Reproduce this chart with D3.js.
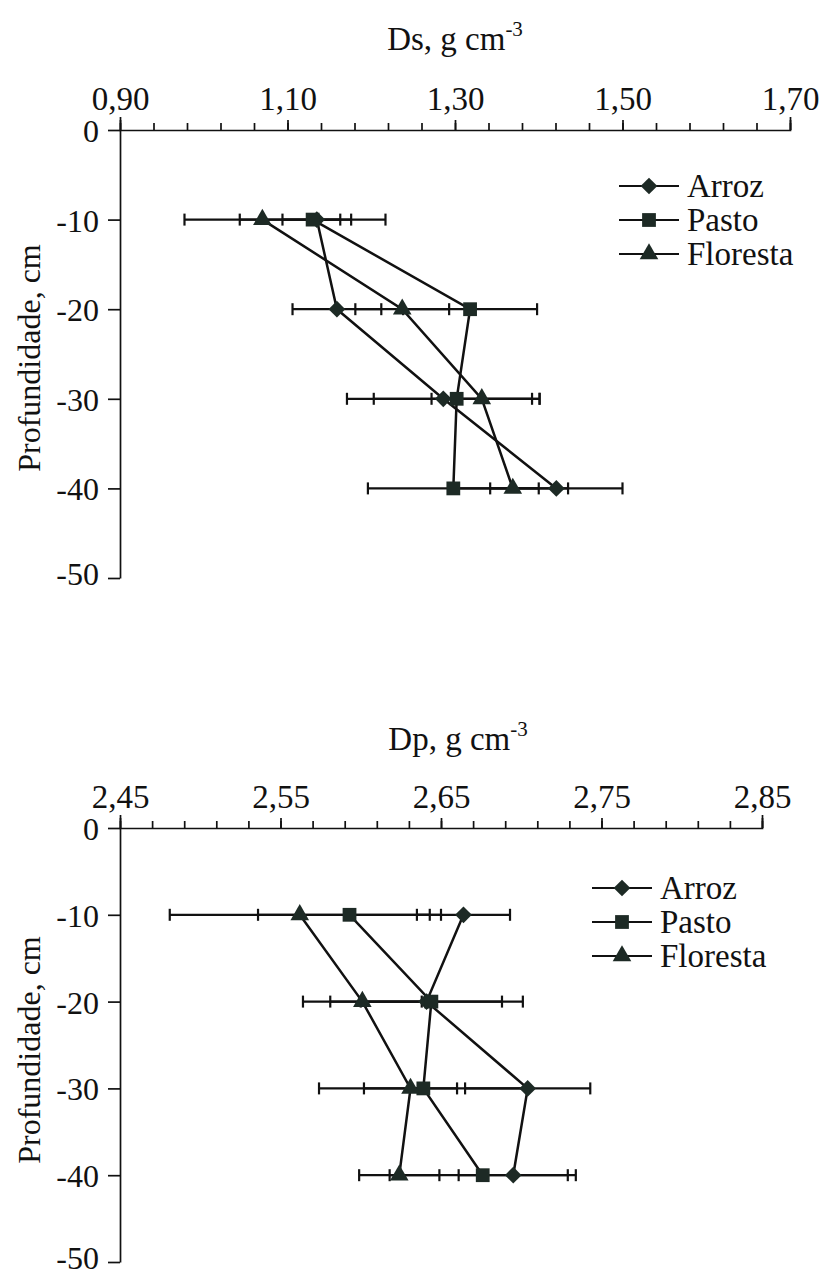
<!DOCTYPE html>
<html>
<head>
<meta charset="utf-8">
<script src="https://cdn.jsdelivr.net/npm/d3@7"></script>
<style>
  body { margin: 0; background: #fff; }
  svg text { font-family: "Liberation Serif", "Times New Roman", serif; fill: #111; }
</style>
</head>
<body>
<div id="chart"></div>
<script>
// depths (cm) shared by both panels
var depths = [-10, -20, -30, -40];
var depthTicks = [0, -10, -20, -30, -40, -50];
var seriesNames = ["Arroz", "Pasto", "Floresta"];

// bulk density Ds (g cm-3) and error
var dsArroz = [1.135, 1.159, 1.286, 1.421];
var dsArrozErr = [0.041, 0.053, 0.115, 0.079];
var dsPasto = [1.130, 1.318, 1.302, 1.298];
var dsPastoErr = [0.087, 0.080, 0.099, 0.102];
var dsFloresta = [1.070, 1.237, 1.332, 1.369];
var dsFlorestaErr = [0.093, 0.056, 0.060, 0.066];
var dsTicks = [0.90, 1.10, 1.30, 1.50, 1.70];

// particle density Dp (g cm-3) and error
var dpArroz = [2.664, 2.641, 2.704, 2.695];
var dpArrozErr = [0.029, 0.060, 0.039, 0.034];
var dpPasto = [2.593, 2.644, 2.639, 2.676];
var dpPastoErr = [0.057, 0.044, 0.065, 0.058];
var dpFloresta = [2.562, 2.601, 2.631, 2.624];
var dpFlorestaErr = [0.081, 0.037, 0.029, 0.025];
var dpTicks = [2.45, 2.55, 2.65, 2.75, 2.85];

var width = 821, height = 1276;
var markFill = "#1d2a25";

var svg = d3.select("#chart").append("svg")
  .attr("width", width)
  .attr("height", height);

// diamond is a square turned 45 degrees, like the original
var symbols = {
  "Arroz": { gen: d3.symbol().type(d3.symbolSquare).size(140), rot: 45 },
  "Pasto": { gen: d3.symbol().type(d3.symbolSquare).size(190), rot: 0 },
  "Floresta": { gen: d3.symbol().type(d3.symbolTriangle).size(150), rot: 0 }
};

function addMark(sel, name, cx, cy) {
  sel.append("path")
    .attr("d", symbols[name].gen())
    .attr("transform", "translate(" + cx + "," + cy + ") rotate(" + symbols[name].rot + ")")
    .attr("fill", markFill);
}

function drawPanel(p) {
  var g = svg.append("g");
  var x = d3.scaleLinear().domain(p.xDomain).range([p.left, p.right]);
  var y = d3.scaleLinear().domain([0, -50]).range([p.top, p.bottom]);
  var fmt = function (d) { return d3.format(p.fmt)(d).replace(".", ","); };

  // minor ticks on top axis
  g.append("g")
    .attr("transform", "translate(0," + p.top + ")")
    .call(d3.axisTop(x).tickValues(d3.range(p.xDomain[0], p.xDomain[1] + 1e-9, p.minor)).tickSize(7).tickSizeOuter(0).tickFormat(""))
    .call(function (a) { a.select(".domain").remove(); });

  // main top axis with labels
  var ax = g.append("g")
    .attr("transform", "translate(0," + p.top + ")")
    .call(d3.axisTop(x).tickValues(p.ticks).tickSize(10).tickSizeOuter(13).tickPadding(10).tickFormat(fmt));
  ax.selectAll("text").style("font-size", "33px").attr("fill", "#111");

  // left axis
  var ay = g.append("g")
    .attr("transform", "translate(" + p.left + ",0)")
    .call(d3.axisLeft(y).tickValues(depthTicks).tickSize(12).tickSizeOuter(0).tickPadding(9)
      .tickFormat(function (d) { return String(d); }));
  ay.selectAll("text").style("font-size", "32px").attr("fill", "#111")
    .attr("dy", function (d) { return d === -50 ? "0.2em" : "0.36em"; });
  g.selectAll(".domain, .tick line").attr("stroke", "#111").attr("stroke-width", 1.7);

  // axis titles
  var t = g.append("text")
    .attr("x", p.titleX)
    .attr("y", p.titleY)
    .attr("text-anchor", "middle")
    .style("font-size", "33px");
  t.append("tspan").text(p.title + ", g cm");
  t.append("tspan").attr("dy", -14).style("font-size", "21px").text("-3");

  g.append("text")
    .attr("transform", "translate(40," + p.ylabY + ") rotate(-90)")
    .attr("text-anchor", "middle")
    .style("font-size", "32px")
    .text("Profundidade, cm");

  // error bars
  p.series.forEach(function (s) {
    depths.forEach(function (dep, i) {
      var x0 = x(s.values[i] - s.err[i]), x1 = x(s.values[i] + s.err[i]), yy = y(dep);
      g.append("line").attr("x1", x0).attr("x2", x1).attr("y1", yy).attr("y2", yy)
        .attr("stroke", "#111").attr("stroke-width", 2.2);
      [x0, x1].forEach(function (cx) {
        g.append("line").attr("x1", cx).attr("x2", cx).attr("y1", yy - 6).attr("y2", yy + 6)
          .attr("stroke", "#111").attr("stroke-width", 2.2);
      });
    });
  });

  // series lines
  var line = d3.line()
    .x(function (d) { return x(d[0]); })
    .y(function (d) { return y(d[1]); });
  p.series.forEach(function (s) {
    g.append("path")
      .datum(s.values.map(function (v, i) { return [v, depths[i]]; }))
      .attr("d", line)
      .attr("fill", "none")
      .attr("stroke", "#111")
      .attr("stroke-width", 2.5);
  });

  // markers
  p.series.forEach(function (s) {
    s.values.forEach(function (v, i) {
      addMark(g, s.name, x(v), y(depths[i]));
    });
  });

  // legend
  var lg = g.append("g");
  seriesNames.forEach(function (name, i) {
    var yy = p.legY + i * 34;
    lg.append("line").attr("x1", p.legX).attr("x2", p.legX + 60).attr("y1", yy).attr("y2", yy)
      .attr("stroke", "#111").attr("stroke-width", 2.2);
    addMark(lg, name, p.legX + 30, yy);
    lg.append("text").attr("x", p.legX + 68).attr("y", yy + 11)
      .style("font-size", "33px").text(name);
  });
}

drawPanel({
  xDomain: [0.90, 1.70], ticks: dsTicks, minor: 0.04, fmt: ".2f",
  left: 120, right: 790, top: 130, bottom: 578,
  title: "Ds", titleX: 455, titleY: 50, ylabY: 358,
  legX: 619, legY: 186,
  series: [
    { name: "Arroz", values: dsArroz, err: dsArrozErr },
    { name: "Pasto", values: dsPasto, err: dsPastoErr },
    { name: "Floresta", values: dsFloresta, err: dsFlorestaErr }
  ]
});

drawPanel({
  xDomain: [2.45, 2.85], ticks: dpTicks, minor: 0.02, fmt: ".2f",
  left: 120, right: 762, top: 828, bottom: 1262,
  title: "Dp", titleX: 458, titleY: 750, ylabY: 1050,
  legX: 592, legY: 888,
  series: [
    { name: "Arroz", values: dpArroz, err: dpArrozErr },
    { name: "Pasto", values: dpPasto, err: dpPastoErr },
    { name: "Floresta", values: dpFloresta, err: dpFlorestaErr }
  ]
});
</script>
</body>
</html>
